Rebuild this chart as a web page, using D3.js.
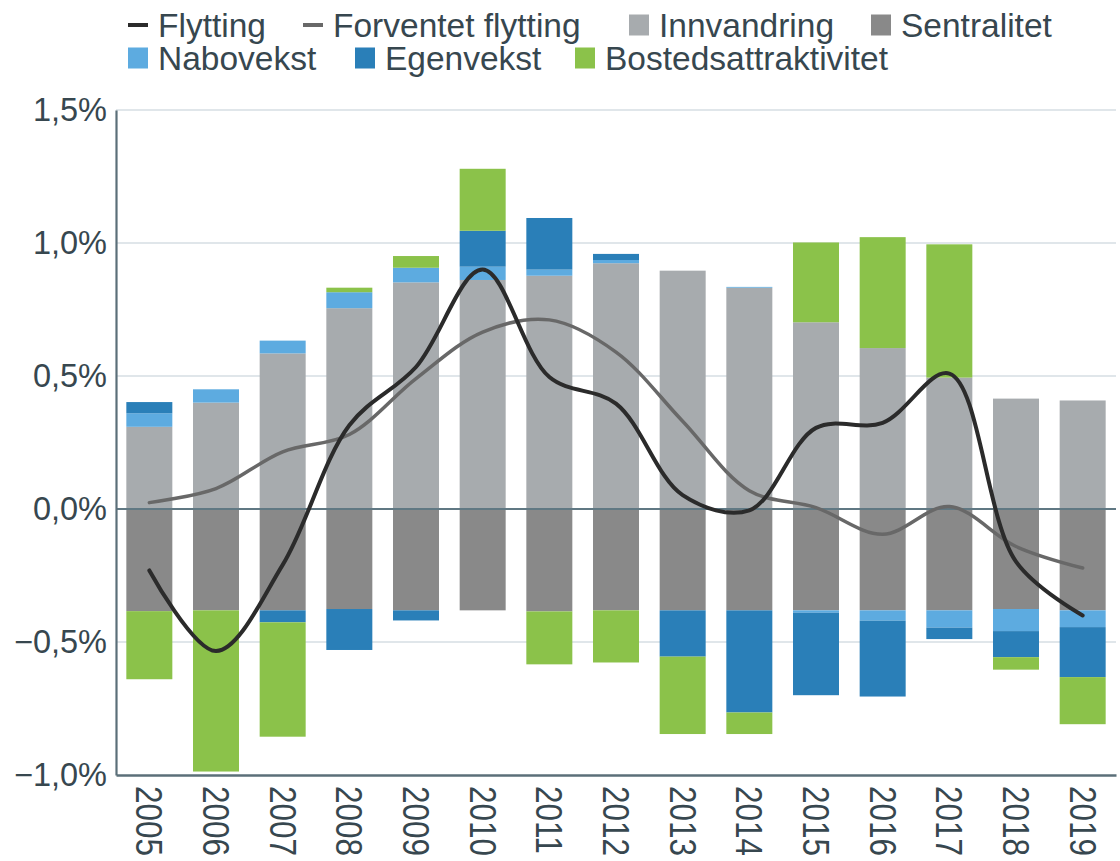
<!DOCTYPE html>
<html><head><meta charset="utf-8">
<script src="https://cdn.jsdelivr.net/npm/d3@7"></script>
<style>
body{margin:0;background:#fff;}
svg{display:block;font-family:"Liberation Sans",Arial,sans-serif;}
</style></head>
<body>
<svg id="chart" width="1120" height="861"></svg>
<script>
const years = ["2005","2006","2007","2008","2009","2010","2011","2012","2013","2014","2015","2016","2017","2018","2019"];
const innvandring = [0.309,0.400,0.585,0.755,0.852,0.861,0.877,0.924,0.896,0.832,0.702,0.605,0.494,0.415,0.408];
const sentralitet = [-0.384,-0.381,-0.381,-0.376,-0.381,-0.381,-0.385,-0.381,-0.381,-0.381,-0.381,-0.381,-0.381,-0.376,-0.381];
const nabovekst = [0.051,0.050,0.048,0.060,0.055,0.050,0.023,0.012,0,0.003,-0.009,-0.039,-0.065,-0.083,-0.063];
const egenvekst = [0.042,0,-0.045,-0.154,-0.038,0.135,0.194,0.023,-0.174,-0.384,-0.310,-0.285,-0.043,-0.098,-0.188];
const bosted = [-0.256,-0.606,-0.430,0.017,0.044,0.233,-0.199,-0.196,-0.291,-0.081,0.300,0.417,0.501,-0.047,-0.177];
const flytting = [-0.231,-0.534,-0.210,0.315,0.534,0.900,0.496,0.396,0.052,-0.005,0.305,0.324,0.509,-0.198,-0.400];
const forventet = [0.024,0.077,0.215,0.280,0.490,0.665,0.711,0.590,0.330,0.069,0.005,-0.095,0.009,-0.141,-0.222];
const yTicks = [-1.0,-0.5,0,0.5,1.0,1.5];

const seriesNames = ["Innvandring","Sentralitet","Nabovekst","Egenvekst","Bostedsattraktivitet"];
const seriesValues = [innvandring,sentralitet,nabovekst,egenvekst,bosted];
const colors = {
  "Innvandring":"#a7abae",
  "Sentralitet":"#898989",
  "Nabovekst":"#5dabe0",
  "Egenvekst":"#2a7fb8",
  "Bostedsattraktivitet":"#8bc24a",
  "Flytting":"#2b2b2b",
  "Forventet flytting":"#686868"
};
const textColor = "#37474f";

const rows = years.map((yr,i)=>{
  const o = {year:yr};
  seriesNames.forEach((n,k)=>o[n]=seriesValues[k][i]);
  return o;
});

const svg = d3.select("#chart");
const mLeft = 116, mRight = 1116, mTop = 110, mBottom = 775;
const x = d3.scaleBand().domain(years).range([mLeft,mRight]).paddingInner(0.31).paddingOuter(0.155);
const y = d3.scaleLinear().domain([-1.0,1.5]).range([mBottom,mTop]);

const loc = d3.formatLocale({decimal:",",thousands:" ",grouping:[3],currency:["","kr"],minus:"\u2212"});
const fmt = v => loc.format(".1f")(v) + "%";

// gridlines
svg.append("g").selectAll("line").data(yTicks.filter(d=>d!==0 && d!==-1.0)).join("line")
  .attr("x1",mLeft).attr("x2",mRight).attr("y1",d=>y(d)).attr("y2",d=>y(d))
  .attr("stroke","#d6dee3").attr("stroke-width",1.6);

// bars
const stack = d3.stack().keys(seriesNames).offset(d3.stackOffsetDiverging);
const stacked = stack(rows);
svg.append("g").selectAll("g").data(stacked).join("g")
  .attr("fill",d=>colors[d.key])
  .selectAll("rect").data(d=>d.filter(p=>p[1]!==p[0])).join("rect")
  .attr("x",d=>x(d.data.year)).attr("width",x.bandwidth())
  .attr("y",d=>y(Math.max(d[0],d[1]))).attr("height",d=>Math.abs(y(d[0])-y(d[1])));

// zero line
svg.append("line").attr("x1",mLeft).attr("x2",mRight).attr("y1",y(0)).attr("y2",y(0))
  .attr("stroke","#607883").attr("stroke-width",1.8);

// lines
const line = d3.line().x((d,i)=>x(years[i])+x.bandwidth()/2).y(d=>y(d)).curve(d3.curveCatmullRom.alpha(0.5));
svg.append("path").attr("d",line(forventet)).attr("fill","none").attr("stroke",colors["Forventet flytting"]).attr("stroke-width",3.5).attr("stroke-linecap","round");
svg.append("path").attr("d",line(flytting)).attr("fill","none").attr("stroke",colors["Flytting"]).attr("stroke-width",4).attr("stroke-linecap","round");

// y axis
const yAxis = d3.axisLeft(y).tickValues(yTicks).tickFormat(fmt).tickSize(0).tickPadding(9);
const gy = svg.append("g").attr("transform",`translate(${mLeft},0)`).call(yAxis);
gy.select(".domain").attr("stroke","#5b6f79").attr("stroke-width",2.2);
gy.selectAll("text").attr("fill",textColor).attr("font-size",32.5).attr("font-family","'Liberation Sans',Arial,sans-serif");

// x axis
const xAxis = d3.axisBottom(x).tickSize(0).tickPadding(0);
const gx = svg.append("g").attr("transform",`translate(0,${mBottom})`).call(xAxis);
gx.select(".domain").attr("stroke","#5b6f79").attr("stroke-width",2.4);
gx.selectAll("text")
  .attr("fill",textColor).attr("font-size",31.5).attr("font-family","'Liberation Sans',Arial,sans-serif")
  .attr("text-anchor","start").attr("dy",null).attr("y",0)
  .attr("dominant-baseline","central")
  .attr("transform","translate(0,11) rotate(90) scale(1,1.18)");

// legend
const legend = [
  {name:"Flytting",type:"line",x:128,y:25},
  {name:"Forventet flytting",type:"line",x:303,y:25},
  {name:"Innvandring",type:"rect",x:629,y:25},
  {name:"Sentralitet",type:"rect",x:871,y:25},
  {name:"Nabovekst",type:"rect",x:128,y:58},
  {name:"Egenvekst",type:"rect",x:355,y:58},
  {name:"Bostedsattraktivitet",type:"rect",x:575,y:58}
];
const lg = svg.append("g").selectAll("g").data(legend).join("g").attr("transform",d=>`translate(${d.x},${d.y})`);
lg.filter(d=>d.type==="rect").append("rect").attr("x",0).attr("y",-10.5).attr("width",20).attr("height",21).attr("fill",d=>colors[d.name]);
lg.filter(d=>d.type==="line").append("line").attr("x1",0).attr("x2",20).attr("y1",0).attr("y2",0).attr("stroke",d=>colors[d.name]).attr("stroke-width",4);
lg.append("text").attr("x",30).attr("y",12).attr("fill",textColor).attr("font-size",33.5).text(d=>d.name);
</script>
</body></html>
